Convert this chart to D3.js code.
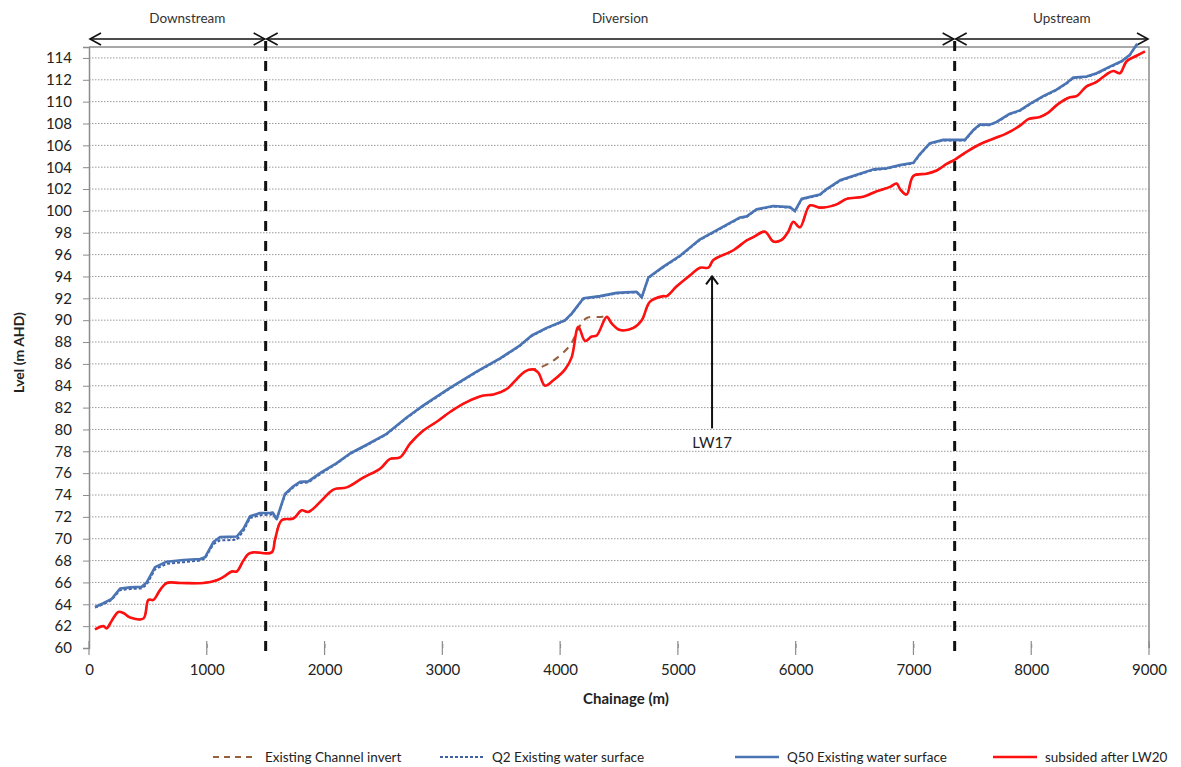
<!DOCTYPE html>
<html>
<head>
<meta charset="utf-8">
<script src="https://cdn.jsdelivr.net/npm/d3@7"></script>
<style>
  html, body { margin: 0; padding: 0; background: #fff; }
  svg { display: block; font-family: Lato, "Open Sans", sans-serif; }
</style>
</head>
<body>
<svg id="chart" width="1181" height="767"></svg>
<script>
// --------------- Data ---------------
const xTicks = [0, 1000, 2000, 3000, 4000, 5000, 6000, 7000, 8000, 9000];
const yTicks = d3.range(60, 115, 2);

// [chainage, level]
const q50Data = [
  [51, 63.75], [122, 64.1], [193, 64.5], [264, 65.45], [349, 65.55], [448, 65.6], [490, 66.0],
  [561, 67.4], [660, 67.9], [801, 68.05], [943, 68.15], [985, 68.3], [1056, 69.7], [1113, 70.15],
  [1254, 70.2], [1311, 70.9], [1367, 72.05], [1452, 72.35], [1537, 72.35], [1560, 72.4],
  [1593, 71.8], [1664, 74.1], [1735, 74.8], [1792, 75.2], [1862, 75.25], [1975, 76.1],
  [2100, 76.9], [2216, 77.8], [2358, 78.6], [2527, 79.6], [2697, 81.1], [2839, 82.2],
  [3065, 83.8], [3291, 85.3], [3490, 86.5], [3660, 87.7], [3759, 88.6], [3886, 89.3],
  [4042, 90.0], [4098, 90.6], [4198, 92.0], [4339, 92.2], [4480, 92.5], [4650, 92.6],
  [4693, 92.1], [4749, 93.9], [4877, 94.9], [5018, 95.9], [5188, 97.4], [5358, 98.4],
  [5528, 99.4], [5584, 99.5], [5668, 100.15], [5810, 100.45], [5952, 100.35], [5994, 100.0],
  [6051, 101.1], [6206, 101.5], [6263, 102.0], [6376, 102.8], [6518, 103.3], [6659, 103.8],
  [6772, 103.9], [6886, 104.2], [6999, 104.4], [7055, 105.2], [7140, 106.2], [7253, 106.5],
  [7352, 106.5], [7437, 106.5], [7508, 107.4], [7564, 107.9], [7649, 107.9], [7706, 108.15],
  [7819, 108.9], [7904, 109.2], [7989, 109.8], [8102, 110.5], [8215, 111.1], [8300, 111.7],
  [8357, 112.2], [8470, 112.3], [8555, 112.6], [8668, 113.2], [8767, 113.7], [8838, 114.3],
  [8900, 115.3]
];

const q2Data = [
  [51, 63.7], [122, 64.0], [193, 64.4], [264, 65.3], [349, 65.4], [448, 65.45], [490, 65.8],
  [561, 67.2], [660, 67.7], [801, 67.85], [943, 68.0], [985, 68.2], [1056, 69.5], [1113, 69.85],
  [1254, 69.9], [1311, 70.7], [1367, 71.9], [1452, 72.15], [1537, 72.2], [1560, 72.25],
  [1593, 71.75], [1664, 74.0], [1735, 74.7], [1792, 75.1], [1862, 75.15], [1975, 76.0],
  [2100, 76.85], [2216, 77.75], [2358, 78.55], [2527, 79.55], [2697, 81.05], [2839, 82.15],
  [3065, 83.75], [3291, 85.25], [3490, 86.45], [3660, 87.65], [3759, 88.55], [3886, 89.25],
  [4042, 89.95], [4098, 90.55], [4198, 91.95], [4339, 92.15], [4480, 92.45], [4650, 92.55],
  [4693, 92.05], [4749, 93.85], [4877, 94.85], [5018, 95.85], [5188, 97.35], [5358, 98.35],
  [5528, 99.35], [5584, 99.45], [5668, 100.1], [5810, 100.4], [5952, 100.3], [5994, 99.95],
  [6051, 101.05], [6206, 101.45], [6263, 101.95], [6376, 102.75], [6518, 103.25], [6659, 103.75],
  [6772, 103.85], [6886, 104.15], [6999, 104.35], [7055, 105.15], [7140, 106.15], [7253, 106.45],
  [7352, 106.45], [7437, 106.45], [7508, 107.35], [7564, 107.85], [7649, 107.85], [7706, 108.1],
  [7819, 108.85], [7904, 109.15], [7989, 109.75], [8102, 110.45], [8215, 111.05], [8300, 111.65],
  [8357, 112.15], [8470, 112.25], [8555, 112.55], [8668, 113.15], [8767, 113.65], [8838, 114.25],
  [8900, 115.25]
];

const subsidedData = [
  [51, 61.7], [122, 62.0], [150, 61.8], [193, 62.5], [249, 63.3], [292, 63.2], [349, 62.8],
  [462, 62.7], [504, 64.4], [547, 64.4], [603, 65.3], [660, 65.95], [773, 65.95], [971, 65.95],
  [1084, 66.2], [1141, 66.5], [1212, 67.0], [1254, 67.0], [1311, 68.0], [1353, 68.6],
  [1396, 68.75], [1551, 68.75], [1579, 69.9], [1636, 71.7], [1735, 71.85], [1806, 72.6],
  [1862, 72.45], [1975, 73.5], [2075, 74.5], [2188, 74.7], [2329, 75.6], [2471, 76.4],
  [2556, 77.3], [2641, 77.45], [2726, 78.7], [2839, 79.9], [2952, 80.7], [3065, 81.6],
  [3206, 82.5], [3348, 83.1], [3433, 83.2], [3546, 83.7], [3631, 84.6], [3700, 85.3],
  [3773, 85.5], [3815, 85.2], [3872, 84.0], [3943, 84.5], [4042, 85.5], [4098, 86.6],
  [4155, 89.4], [4212, 88.1], [4268, 88.5], [4311, 88.6], [4396, 90.3], [4438, 89.7],
  [4509, 89.1], [4622, 89.3], [4693, 90.0], [4764, 91.7], [4877, 92.2], [4905, 92.2],
  [4990, 93.1], [5103, 94.1], [5188, 94.8], [5259, 94.8], [5301, 95.5], [5471, 96.4],
  [5584, 97.3], [5640, 97.6], [5739, 98.1], [5810, 97.2], [5881, 97.35], [5937, 98.1],
  [5980, 99.0], [6036, 98.5], [6121, 100.5], [6206, 100.3], [6348, 100.6], [6433, 101.1],
  [6574, 101.3], [6688, 101.8], [6801, 102.2], [6857, 102.5], [6886, 102.0], [6942, 101.5],
  [6999, 103.2], [7112, 103.4], [7197, 103.7], [7282, 104.3], [7352, 104.7], [7451, 105.4],
  [7564, 106.1], [7678, 106.6], [7791, 107.1], [7904, 107.8], [7975, 108.4], [8074, 108.6],
  [8145, 109.0], [8230, 109.8], [8329, 110.4], [8385, 110.5], [8470, 111.4], [8555, 111.8],
  [8640, 112.5], [8697, 112.8], [8753, 112.6], [8810, 113.7], [8895, 114.2], [8966, 114.6]
];

// channel invert only departs from the subsided line between ~3770 and ~4400 m
const invertDeviation = [
  [3815, 85.6], [3943, 86.3], [4084, 87.7], [4169, 89.5], [4226, 90.2], [4339, 90.3]
];
const invertData = subsidedData
  .filter((d) => d[0] <= 3773 || d[0] >= 4396)
  .concat(invertDeviation)
  .sort((a, b) => a[0] - b[0]);

const sectionBounds = [0, 1500, 7350, 9000];
const sectionNames = ["Downstream", "Diversion", "Upstream"];
const lw17 = { chainage: 5290, from: 80.1, to: 94.1, label: "LW17" };

const legendLabels = [
  "Existing Channel invert",
  "Q2 Existing water surface",
  "Q50 Existing water surface",
  "subsided after LW20"
];

// --------------- Constants ---------------
const LEFT = 89, RIGHT = 1149, TOP = 47, BOTTOM = 648;
const ARROW_Y = 39;
const BLUE = "#4a74b4";
const Q2_BLUE = "#3d5fa6";
const RED = "#ff1010";
const BROWN = "#96603c";
const AXIS_GRAY = "#8c8c8c";

const svg = d3.select("#chart");

const x = d3.scaleLinear().domain([0, 9000]).range([LEFT, RIGHT]);
const y = d3.scaleLinear().domain([60, 115]).range([BOTTOM, TOP]);

// --------------- Grid + frame ---------------
svg.append("g")
  .selectAll("line")
  .data(yTicks.filter((v) => v > 60))
  .enter()
  .append("line")
  .attr("x1", LEFT)
  .attr("x2", RIGHT)
  .attr("y1", (d) => y(d))
  .attr("y2", (d) => y(d))
  .attr("stroke", "#9a9a9a")
  .attr("stroke-width", 1)
  .attr("stroke-dasharray", "1.5,1.5");

svg.append("path")
  .attr("d", `M${LEFT},${TOP}H${RIGHT}V${BOTTOM}`)
  .attr("fill", "none")
  .attr("stroke", AXIS_GRAY)
  .attr("stroke-width", 1.5);

// --------------- Axes ---------------
const xAxis = svg.append("g").attr("transform", `translate(0,${BOTTOM})`);
xAxis.call(
  d3.axisBottom(x).tickValues(d3.range(0, 9001, 200)).tickSize(4).tickFormat("")
);
xAxis.call(d3.axisBottom(x).tickValues(xTicks).tickSize(0).tickPadding(16).tickFormat(d3.format("d")))
  .call((g) => g.selectAll(".domain").remove());
xAxis.selectAll("line").attr("stroke", AXIS_GRAY).attr("y1", -4);
xAxis.selectAll(".domain").attr("stroke", AXIS_GRAY).attr("stroke-width", 1.5);
xAxis.selectAll("text").attr("font-size", 15).attr("fill", "#222").attr("font-family", "Lato, sans-serif");

// major x ticks a bit longer
svg.append("g")
  .selectAll("line")
  .data(xTicks)
  .enter()
  .append("line")
  .attr("x1", (d) => x(d))
  .attr("x2", (d) => x(d))
  .attr("y1", BOTTOM - 7)
  .attr("y2", BOTTOM + 7)
  .attr("stroke", AXIS_GRAY)
  .attr("stroke-width", 1.2);

const yAxis = svg.append("g").attr("transform", `translate(${LEFT},0)`);
yAxis.call(
  d3.axisLeft(y).tickValues(d3.range(60, 115.01, 0.2)).tickSize(4).tickFormat("")
);
yAxis.call(d3.axisLeft(y).tickValues(yTicks).tickSize(6).tickPadding(11));
yAxis.selectAll("line").attr("stroke", AXIS_GRAY);
yAxis.selectAll(".domain").attr("stroke", AXIS_GRAY).attr("stroke-width", 1.5);
yAxis.selectAll("text").attr("font-size", 15).attr("fill", "#222").attr("font-family", "Lato, sans-serif");

svg.append("text")
  .attr("x", 626)
  .attr("y", 704)
  .attr("text-anchor", "middle")
  .attr("font-size", 15)
  .attr("font-weight", "bold")
  .attr("fill", "#222")
  .text("Chainage (m)");

svg.append("text")
  .attr("transform", `translate(24,${(TOP + BOTTOM) / 2 + 5}) rotate(-90)`)
  .attr("text-anchor", "middle")
  .attr("font-size", 14)
  .attr("font-weight", "bold")
  .attr("fill", "#222")
  .text("Lvel (m AHD)");

// --------------- Section dividers + arrows ---------------
svg.append("g")
  .selectAll("line")
  .data(sectionBounds.slice(1, -1))
  .enter()
  .append("line")
  .attr("x1", (d) => x(d))
  .attr("x2", (d) => x(d))
  .attr("y1", ARROW_Y + 2)
  .attr("y2", BOTTOM + 3)
  .attr("stroke", "#111")
  .attr("stroke-width", 3)
  .attr("stroke-dasharray", "10,10");

const sections = sectionNames.map((name, i) => ({
  name,
  start: sectionBounds[i],
  end: sectionBounds[i + 1]
}));

const arrowG = svg.append("g").attr("stroke", "#111").attr("stroke-width", 1.6).attr("fill", "none");
sections.forEach((s) => {
  const x0 = x(s.start) + 1, x1 = x(s.end) - 1;
  arrowG.append("line").attr("x1", x0).attr("x2", x1).attr("y1", ARROW_Y).attr("y2", ARROW_Y);
  arrowG.append("path").attr("d", `M${x0 + 11},${ARROW_Y - 6}L${x0},${ARROW_Y}L${x0 + 11},${ARROW_Y + 6}`);
  arrowG.append("path").attr("d", `M${x1 - 11},${ARROW_Y - 6}L${x1},${ARROW_Y}L${x1 - 11},${ARROW_Y + 6}`);
});

svg.append("g")
  .selectAll("text")
  .data(sections)
  .enter()
  .append("text")
  .attr("x", (d) => (x(d.start) + x(d.end)) / 2 + 10)
  .attr("y", 23)
  .attr("text-anchor", "middle")
  .attr("font-size", 13.5)
  .attr("fill", "#333")
  .text((d) => d.name);

// --------------- Series ---------------
const line = d3.line().x((d) => x(d[0])).y((d) => y(d[1]));
const smooth = d3.line().x((d) => x(d[0])).y((d) => y(d[1])).curve(d3.curveCatmullRom.alpha(0.5));

svg.append("path")
  .datum(invertData)
  .attr("d", smooth)
  .attr("fill", "none")
  .attr("stroke", BROWN)
  .attr("stroke-width", 2)
  .attr("stroke-dasharray", "7,6");

svg.append("path")
  .datum(q2Data)
  .attr("d", line)
  .attr("fill", "none")
  .attr("stroke", Q2_BLUE)
  .attr("stroke-width", 2)
  .attr("stroke-dasharray", "3,2");

svg.append("path")
  .datum(q50Data)
  .attr("d", line)
  .attr("fill", "none")
  .attr("stroke", BLUE)
  .attr("stroke-width", 2.6)
  .attr("stroke-linejoin", "round");

svg.append("path")
  .datum(subsidedData)
  .attr("d", smooth)
  .attr("fill", "none")
  .attr("stroke", RED)
  .attr("stroke-width", 2.6)
  .attr("stroke-linejoin", "round");

// --------------- LW17 annotation ---------------
const ax = x(lw17.chainage);
svg.append("line")
  .attr("x1", ax).attr("x2", ax)
  .attr("y1", y(lw17.from)).attr("y2", y(lw17.to) + 2)
  .attr("stroke", "#111").attr("stroke-width", 2);
svg.append("path")
  .attr("d", `M${ax - 6},${y(lw17.to) + 9}L${ax},${y(lw17.to) + 1}L${ax + 6},${y(lw17.to) + 9}`)
  .attr("fill", "none").attr("stroke", "#111").attr("stroke-width", 2);
svg.append("text")
  .attr("x", ax)
  .attr("y", y(lw17.from) + 20)
  .attr("text-anchor", "middle")
  .attr("font-size", 15)
  .attr("fill", "#222")
  .text(lw17.label);

// --------------- Legend ---------------
const legendStyles = [
  { color: BROWN, dash: "6,5", width: 2 },
  { color: Q2_BLUE, dash: "3,2", width: 2 },
  { color: BLUE, dash: null, width: 2.6 },
  { color: RED, dash: null, width: 2.6 }
];
const legendX = [213, 440, 735, 993];
const legend = svg.append("g").attr("transform", "translate(0,757)");
legendLabels.forEach((label, i) => {
  const st = legendStyles[i];
  legend.append("line")
    .attr("x1", legendX[i]).attr("x2", legendX[i] + 44)
    .attr("y1", 0).attr("y2", 0)
    .attr("stroke", st.color).attr("stroke-width", st.width)
    .attr("stroke-dasharray", st.dash);
  legend.append("text")
    .attr("x", legendX[i] + 52)
    .attr("y", 5)
    .attr("font-size", 13.5)
    .attr("fill", "#222")
    .text(label);
});
</script>
</body>
</html>
